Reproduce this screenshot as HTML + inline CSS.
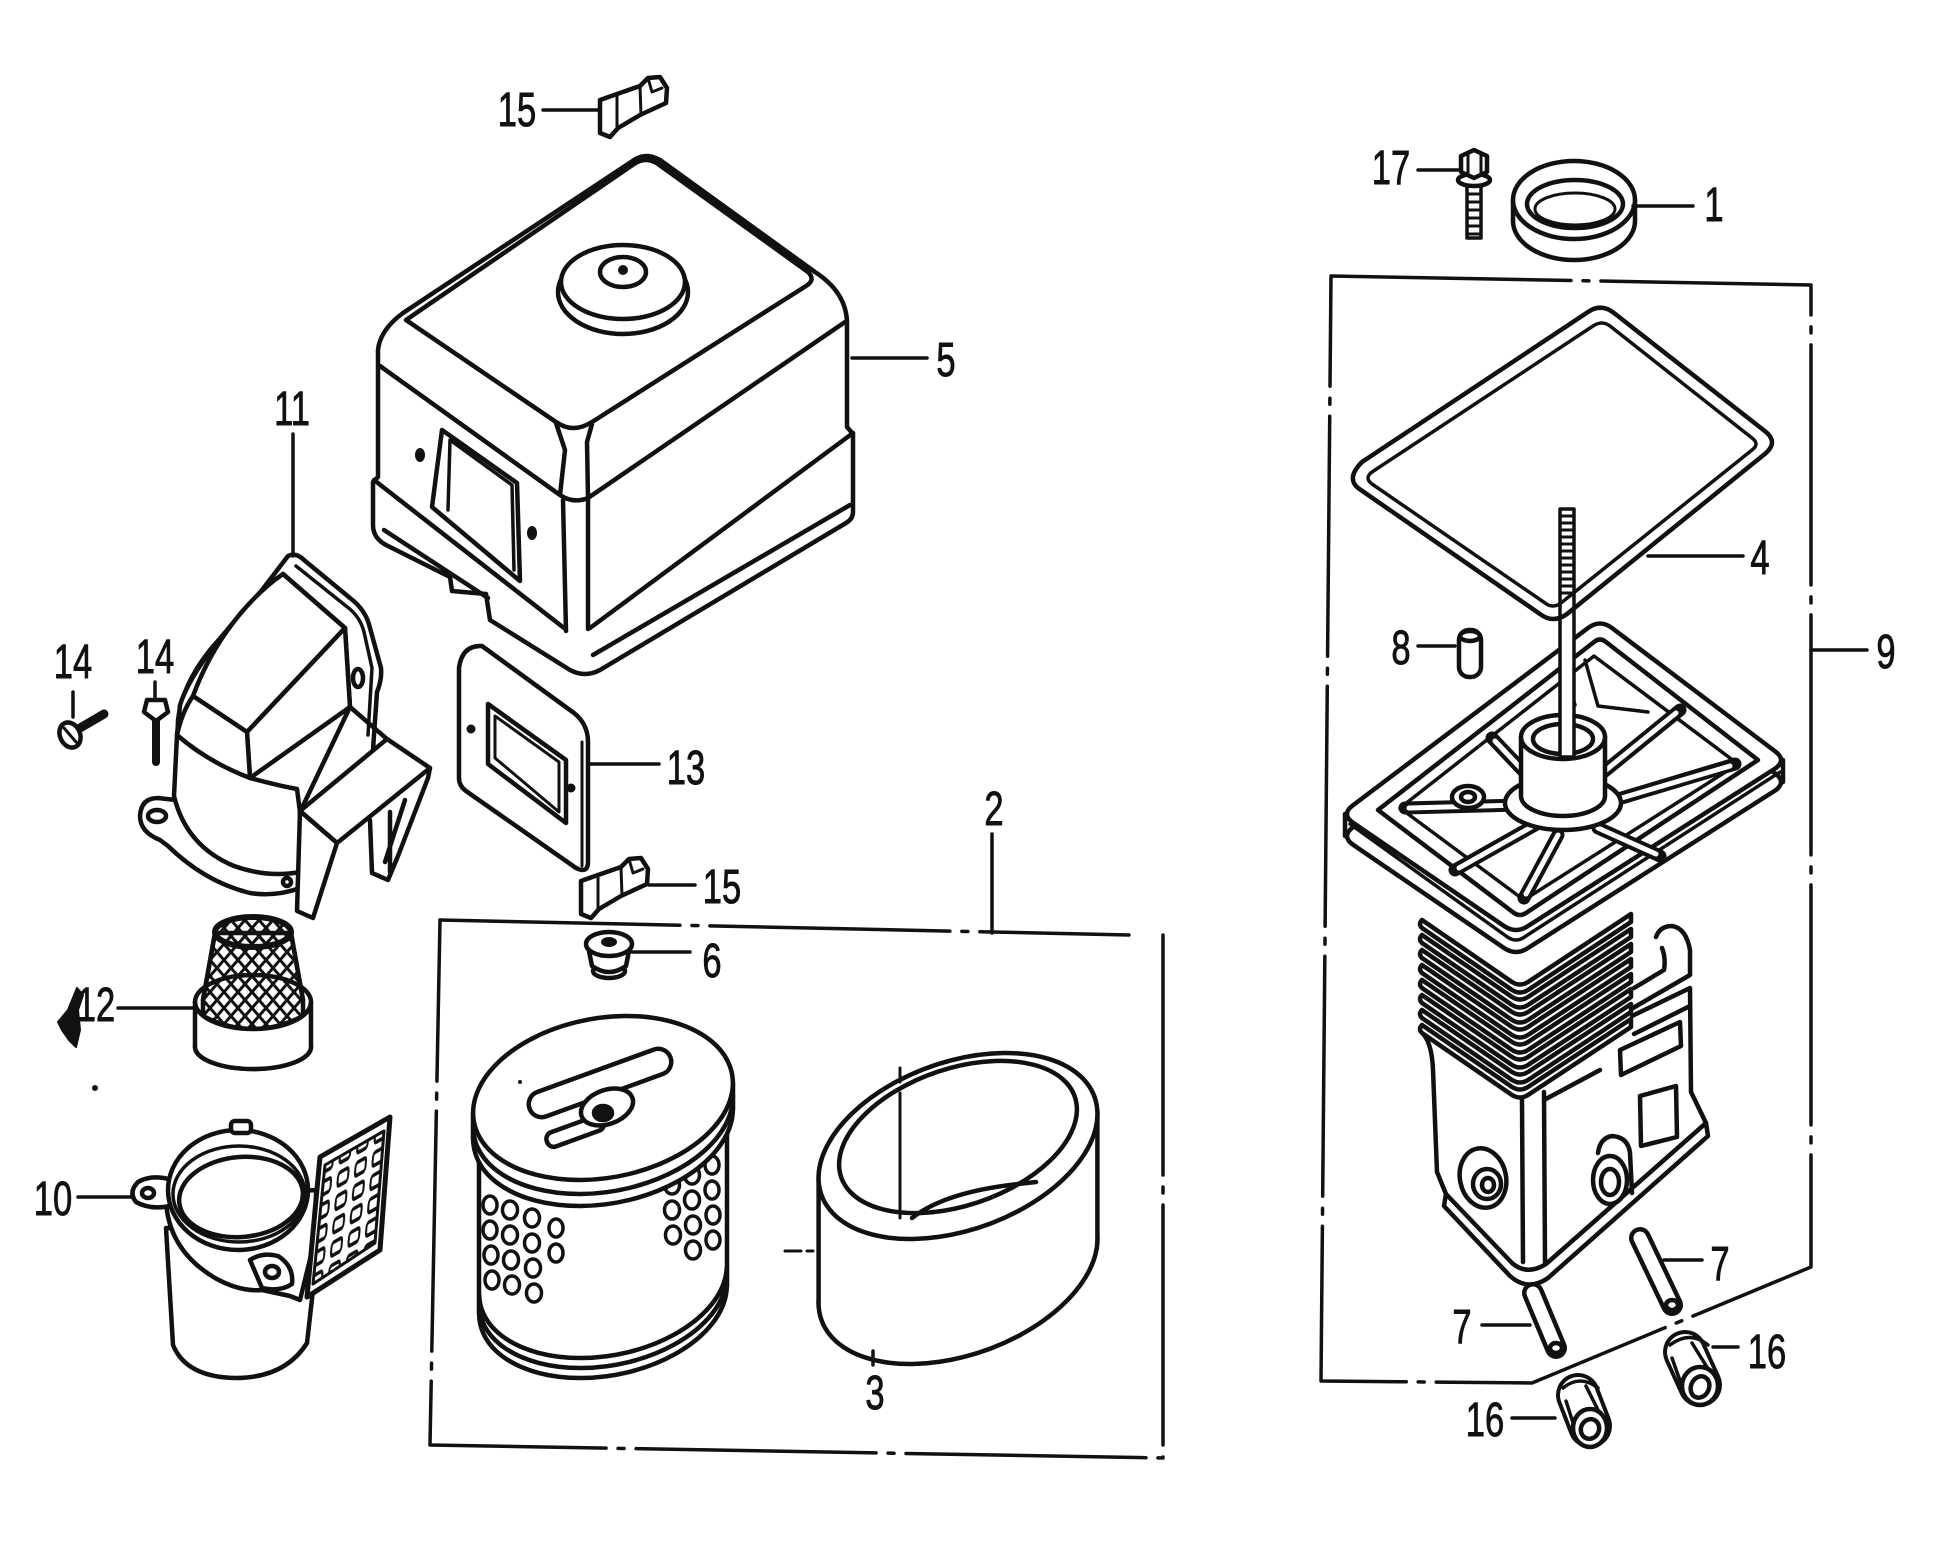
<!DOCTYPE html>
<html><head><meta charset="utf-8">
<style>
html,body{margin:0;padding:0;background:#fff;}
svg{display:block;}
</style></head><body>
<svg width="1946" height="1552" viewBox="0 0 1946 1552" xmlns="http://www.w3.org/2000/svg">
<defs>
 <pattern id="mesh" patternUnits="userSpaceOnUse" width="14" height="16">
   <path d="M0,0 L14,16 M14,0 L0,16" stroke="#111" stroke-width="3" fill="none"/>
 </pattern>
 <pattern id="grid" patternUnits="userSpaceOnUse" width="25" height="16.67" patternTransform="matrix(0.7,-0.4,-0.13,1.4,320,1157)">
   <rect x="5" y="3.5" width="15" height="9.5" rx="3" fill="none" stroke="#111" stroke-width="3"/>
 </pattern>
</defs>
<rect width="1946" height="1552" fill="#fff"/>

<g fill="none" stroke="#111" stroke-width="4.5" stroke-linejoin="round" stroke-linecap="round">

<!-- ============ BOX LINES (chain) ============ -->
<g stroke-width="3.5" stroke-dasharray="240 12 6 12">
  <path d="M440,920 L1129,935"/>
  <path d="M1163,935 L1163,1458 L430,1445 L440,920"/>
  <path d="M1331,276 L1811,285 L1811,1267 L1532,1383 L1321,1381 L1331,276"/>
</g>

<!-- ============ PART 15 TOP ============ -->
<path fill="#fff" d="M600,100 L617,94 L640,86 L648,78 L660,77 L667,88 L666,103 L640,115 L618,128 L610,137 L600,133 Z"/>
<path stroke-width="3" d="M617,94 L617,128 M640,86 L641,115 M648,78 L652,92 L662,88"/>

<!-- ============ PART 5 COVER ============ -->
<path fill="#fff" d="M634,160 Q646,152 660,160 L815,272 Q846,292 847,322 L847,427 L853,434 L853,512 Q853,519 846,523 L600,670 Q585,678 570,670 L490,620 L486,594 L452,591 L450,577 L386,545 Q373,538 373,525 L373,482 L378,477 L378,350 Q380,330 403,313 Z"/>
<path d="M406,320 L634,164 Q646,156 658,164 L808,272 Q816,280 806,286 L592,422 Q573,434 556,422 Z"/>
<!-- bevels -->
<path d="M380,366 L560,495"/>
<path d="M845,322 L588,498"/>
<path d="M556,423 L565,450 L560,495 Q573,504 588,498 L587,442 L592,424"/>
<!-- front band -->
<path d="M563,500 L566,631 M588,500 L588,629"/>
<!-- flange lines -->
<path d="M374,480 L564,628"/>
<path d="M384,530 L488,598"/>
<path d="M853,433 L590,628"/>
<path d="M850,505 L593,655"/>
<!-- window -->
<path fill="#fff" d="M442,430 L517,483 L520,581 L432,507 Z"/>
<path stroke-width="3.5" d="M450,440 L448,510 M450,440 L512,485 L514,570"/>
<ellipse cx="420" cy="455" rx="5" ry="7" fill="#111" stroke="none"/>
<ellipse cx="532" cy="533" rx="5" ry="7" fill="#111" stroke="none"/>
<!-- dome -->
<ellipse cx="623" cy="292" rx="65" ry="42" fill="#fff"/>
<ellipse cx="623" cy="282" rx="62" ry="37" fill="#fff"/>
<ellipse cx="623" cy="272" rx="23" ry="15"/>
<circle cx="623" cy="270" r="5" fill="#111" stroke="none"/>

<!-- ============ PART 13 PLATE ============ -->
<path fill="#fff" d="M459,668 Q462,645 482,646 L574,713 Q588,724 588,742 L588,862 Q588,874 576,868 L466,791 Q459,786 459,778 Z"/>
<path stroke-width="3" d="M582,742 L582,866"/>
<path d="M488,704 L566,760 L566,823 L488,764 Z"/>
<path stroke-width="3" d="M495,716 L559,762 L559,812 L495,758 Z"/>
<circle cx="471" cy="729" r="4.5" fill="#111" stroke="none"/>
<circle cx="571" cy="788" r="4.5" fill="#111" stroke="none"/>

<!-- ============ PART 15 MID ============ -->
<g transform="translate(-19,781)">
<path fill="#fff" d="M600,100 L617,94 L640,86 L648,78 L660,77 L667,88 L666,103 L640,115 L618,128 L610,137 L600,133 Z"/>
<path stroke-width="3" d="M617,94 L617,128 M640,86 L641,115 M648,78 L652,92 L662,88"/>
</g>

<!-- ============ PART 6 GROMMET ============ -->
<ellipse cx="609" cy="971" rx="16" ry="7" fill="#fff"/>
<path fill="#fff" d="M588,946 L592,966 Q609,978 626,966 L630,946 Z"/>
<ellipse cx="609" cy="944" rx="23" ry="12" fill="#fff"/>
<ellipse cx="609" cy="942" rx="8" ry="5" fill="#111" stroke="none"/>

<!-- ============ PART 11 ELBOW ============ -->
<path fill="#fff" d="M288,556 Q296,552 304,560 L350,598 Q366,610 370,628 L381,668 Q382,680 377,692 L374,735 L372,765 L300,812 L300,888 Q275,897 250,893 Q205,882 168,846 L160,840 Q140,832 140,816 Q141,798 158,798 L176,800 L178,720 Q182,685 210,650 L262,590 Z"/>
<path stroke-width="3.5" d="M296,566 L346,606 Q360,616 364,632 L372,668 L368,735"/>
<path fill="#fff" d="M283,574 Q250,600 215,645 Q188,680 180,705 L177,735 L174,796 Q186,846 234,866 Q268,878 300,872 L300,812 L350,707 L345,628 Z"/>
<path fill="#fff" d="M283,574 L345,628 L247,732 L193,696 Q210,650 240,614 Q262,588 283,574 Z"/>
<path fill="#fff" d="M345,628 L350,707 L250,778 L247,732 Z"/>
<path fill="#fff" d="M193,696 L247,732 L250,778 Q208,762 177,735 Q182,712 193,696 Z"/>
<path d="M250,778 Q280,786 297,789 L300,812"/>
<path d="M350,707 L387,739"/>
<path fill="#fff" d="M300,811 L387,739 L430,768 L337,843 Z"/>
<path fill="#fff" d="M300,811 L337,843 L313,918 L297,911 Z"/>
<path d="M430,768 L428,778 L398,856 L388,880 L372,873 L370,820 M390,812 L390,872 M405,800 L385,862"/>
<ellipse cx="358" cy="678" rx="5" ry="9"/>
<ellipse cx="157" cy="816" rx="9" ry="6"/>
<circle cx="287" cy="882" r="4"/>

<!-- ============ PART 14 SCREWS ============ -->
<line x1="80" y1="728" x2="104" y2="714" stroke-width="9"/>
<ellipse cx="70" cy="735" rx="10" ry="13" transform="rotate(-25 70 735)" fill="#fff"/>
<path stroke-width="3" d="M64,728 L76,742"/>
<line x1="156" y1="718" x2="156" y2="762" stroke-width="8"/>
<path fill="#fff" d="M147,700 L165,700 L168,712 L156,721 L144,712 Z"/>

<!-- ============ PART 12 SCREEN ============ -->
<ellipse cx="253" cy="1047" rx="58" ry="22" fill="#fff"/>
<ellipse cx="253" cy="1002" rx="58" ry="27" fill="#fff"/>
<path fill="url(#mesh)" d="M215,933 L203,1000 L203,1016 Q253,1042 303,1016 L303,1000 L291,933 Z"/>
<path d="M215,933 L203,1000 M291,933 L303,1000"/>
<ellipse cx="253" cy="932" rx="38" ry="15" fill="url(#mesh)" stroke-width="6"/>
<path fill="#fff" d="M195,1002 A58,27 0 0 0 311,1002 L311,1047 A58,22 0 0 1 195,1047 Z"/>
<path fill="#111" stroke-width="2" d="M77,988 L83,995 L78,1010 L80,1030 L76,1047 L69,1040 L62,1030 L58,1022 L68,1010 Z"/>
<circle cx="95" cy="1088" r="3" fill="#111" stroke="none"/>

<!-- ============ PART 10 ELBOW ============ -->
<path fill="#fff" d="M166,1228 L173,1345 Q186,1377 235,1378 Q285,1378 307,1343 L313,1290 L313,1230 Z"/>
<path fill="#fff" d="M166,1200 Q168,1250 215,1278 Q240,1292 262,1290 L290,1296 L300,1300 L316,1235 L316,1190 Z"/>
<path fill="#fff" d="M172,1180 Q152,1174 138,1182 Q128,1192 136,1202 Q150,1210 170,1206 Z"/>
<ellipse cx="148" cy="1193" rx="6" ry="5"/>
<ellipse cx="238" cy="1190" rx="70" ry="60" fill="#fff"/>
<ellipse cx="239" cy="1194" rx="66" ry="48" stroke-width="3.5"/>
<ellipse cx="241" cy="1197" rx="62" ry="40" transform="rotate(-5 241 1197)" fill="#fff"/>
<path fill="#fff" d="M250,1260 Q262,1252 278,1256 Q294,1266 292,1284 Q280,1292 262,1288 Z"/>
<ellipse cx="272" cy="1272" rx="7" ry="6"/>
<rect x="231" y="1121" width="20" height="12" rx="4" fill="#fff"/>
<path fill="#fff" stroke-width="5" d="M320,1157 L390,1117 L380,1250 L307,1297 Z"/>
<path fill="url(#grid)" stroke-width="3" d="M325,1165 L384,1131 L375,1243 L313,1284 Z"/>

<!-- ============ PAPER FILTER ============ -->
<ellipse rx="1" ry="1" transform="matrix(122,-1,-21,78,603,1300)" vector-effect="non-scaling-stroke" fill="#fff"/>
<ellipse rx="1" ry="1" transform="matrix(122,-1,-21,78,603,1290)" vector-effect="non-scaling-stroke" fill="#fff"/>
<ellipse rx="1" ry="1" transform="matrix(122,-1,-21,78,603,1280)" vector-effect="non-scaling-stroke" fill="#fff"/>
<path fill="#fff" stroke="none" d="M479,1138 L727,1110 L727,1266 L479,1294 Z"/>
<path d="M479,1138 L479,1314 M727,1110 L727,1286"/>
<g stroke-width="3.5" fill="#fff">
<ellipse cx="490" cy="1205" rx="7" ry="9"/><ellipse cx="490" cy="1230" rx="7" ry="9"/><ellipse cx="491" cy="1255" rx="7" ry="9"/><ellipse cx="492" cy="1280" rx="7" ry="9"/>
<ellipse cx="510" cy="1210" rx="7.5" ry="9"/><ellipse cx="510" cy="1235" rx="7.5" ry="9"/><ellipse cx="511" cy="1260" rx="7.5" ry="9"/><ellipse cx="512" cy="1285" rx="7.5" ry="9"/>
<ellipse cx="532" cy="1218" rx="7.5" ry="9"/><ellipse cx="532" cy="1243" rx="7.5" ry="9"/><ellipse cx="533" cy="1268" rx="7.5" ry="9"/><ellipse cx="534" cy="1293" rx="7.5" ry="9"/>
<ellipse cx="556" cy="1228" rx="7" ry="9"/><ellipse cx="556" cy="1253" rx="7" ry="9"/>
<ellipse cx="672" cy="1185" rx="7.5" ry="9"/><ellipse cx="672" cy="1210" rx="7.5" ry="9"/><ellipse cx="673" cy="1235" rx="7.5" ry="9"/>
<ellipse cx="692" cy="1175" rx="7.5" ry="9"/><ellipse cx="692" cy="1200" rx="7.5" ry="9"/><ellipse cx="693" cy="1225" rx="7.5" ry="9"/><ellipse cx="693" cy="1250" rx="7.5" ry="9"/>
<ellipse cx="712" cy="1165" rx="7" ry="9"/><ellipse cx="712" cy="1190" rx="7" ry="9"/><ellipse cx="713" cy="1215" rx="7" ry="9"/><ellipse cx="713" cy="1240" rx="7" ry="9"/>
</g>
<!-- cover rim -->
<ellipse rx="1" ry="1" transform="matrix(128,-1,-22,82,603,1124)" vector-effect="non-scaling-stroke" fill="#fff"/>
<path fill="#fff" stroke="none" d="M473,1113 L733,1083 L733,1109 L473,1139 Z"/>
<path d="M473,1113 L473,1139 M733,1083 L733,1109"/>
<ellipse rx="1" ry="1" transform="matrix(128,-1,-22,82,603,1112)" vector-effect="non-scaling-stroke" fill="#fff"/>
<ellipse rx="1" ry="1" transform="matrix(128,-1,-22,82,603,1098)" vector-effect="non-scaling-stroke" fill="#fff"/>
<!-- slot & hub -->
<rect x="525" y="1070" width="150" height="26" rx="13" transform="rotate(-20 600 1083)" fill="#fff"/>
<rect x="545" y="1124" width="60" height="15" rx="7" transform="rotate(-20 575 1131)" fill="#fff"/>
<ellipse cx="607" cy="1107" rx="27" ry="17" transform="rotate(-20 607 1107)" fill="#fff"/>
<ellipse cx="603" cy="1113" rx="9" ry="7" fill="#111"/>
<circle cx="520" cy="1082" r="2" fill="#111" stroke="none"/>

<!-- ============ FOAM FILTER (3) ============ -->
<ellipse rx="1" ry="1" transform="matrix(132,-2,-45,93,958,1271)" vector-effect="non-scaling-stroke" fill="#fff"/>
<path fill="#fff" stroke="none" d="M818.6,1178 L1097.4,1114 L1097.4,1239 L818.6,1303 Z"/>
<path d="M818.6,1178 L818.6,1303 M1097.4,1114 L1097.4,1239"/>
<ellipse rx="1" ry="1" transform="matrix(132,-2,-45,93,958,1146)" vector-effect="non-scaling-stroke" fill="#fff"/>
<ellipse rx="1" ry="1" transform="matrix(113,-4,-37,76,958,1137)" vector-effect="non-scaling-stroke" fill="#fff"/>
<path d="M912,1218 Q945,1192 1018,1184 L1036,1182"/>
<path stroke-width="3" d="M900,1093 L900,1218 M900,1068 L900,1082"/>
<path stroke-width="3" stroke-dasharray="16 6" d="M785,1251 L813,1251"/>

<!-- ============ PART 9 BASE ============ -->
<!-- lower body -->
<path d="M1424,1035 Q1432,1045 1433,1070 L1437,1172 L1446,1194"/>
<path fill="#fff" d="M1446,1194 L1512,1263 Q1527,1276 1546,1264 L1706,1123 L1708,1136 L1548,1278 Q1528,1292 1510,1276 L1444,1206 Z"/>
<path d="M1522,1100 L1523,1262 M1544,1092 L1545,1263"/>
<path d="M1544,1100 L1600,1070"/>
<ellipse cx="1483" cy="1178" rx="23" ry="30" transform="rotate(-12 1483 1178)" fill="#fff"/>
<ellipse cx="1487" cy="1184" rx="14" ry="15" fill="#fff"/>
<ellipse cx="1488" cy="1185" rx="6" ry="7"/>
<path d="M1598,1153 Q1600,1138 1612,1136 Q1628,1137 1630,1153 L1632,1193"/>
<ellipse cx="1610" cy="1180" rx="17" ry="24" fill="#fff"/>
<ellipse cx="1610" cy="1182" rx="9" ry="13"/>
<!-- bracket -->
<path d="M1656,937 Q1660,926 1672,926 Q1686,928 1690,950 L1690,975 L1633,1008 M1662,948 Q1666,958 1664,970 L1634,988"/>
<path d="M1632,1016 L1690,988 L1691,1092 L1706,1123 M1634,1034 L1690,1006"/>
<path d="M1620,1050 L1680,1022 L1681,1046 L1621,1075 Z"/>
<path d="M1640,1096 L1676,1086 L1677,1137 L1641,1146 Z"/>
<!-- fins -->
<g fill="#fff">
<path d="M1422,1025 L1512,1087 Q1520,1092 1528,1087 L1631,1019 L1631,1027 L1528,1095 Q1520,1100 1512,1095 L1422,1033 Q1418,1029 1422,1025 Z"/>
<path d="M1422,1010 L1512,1072 Q1520,1077 1528,1072 L1631,1004 L1631,1012 L1528,1080 Q1520,1085 1512,1080 L1422,1018 Q1418,1014 1422,1010 Z"/>
<path d="M1422,995 L1512,1057 Q1520,1062 1528,1057 L1631,989 L1631,997 L1528,1065 Q1520,1070 1512,1065 L1422,1003 Q1418,999 1422,995 Z"/>
<path d="M1422,980 L1512,1042 Q1520,1047 1528,1042 L1631,974 L1631,982 L1528,1050 Q1520,1055 1512,1050 L1422,988 Q1418,984 1422,980 Z"/>
<path d="M1422,965 L1512,1027 Q1520,1032 1528,1027 L1631,959 L1631,967 L1528,1035 Q1520,1040 1512,1035 L1422,973 Q1418,969 1422,965 Z"/>
<path d="M1422,950 L1512,1012 Q1520,1017 1528,1012 L1631,944 L1631,952 L1528,1020 Q1520,1025 1512,1020 L1422,958 Q1418,954 1422,950 Z"/>
<path d="M1422,935 L1512,997 Q1520,1002 1528,997 L1631,929 L1631,937 L1528,1005 Q1520,1010 1512,1005 L1422,943 Q1418,939 1422,935 Z"/>
<path d="M1422,920 L1512,982 Q1520,987 1528,982 L1631,914 L1631,922 L1528,990 Q1520,995 1512,990 L1422,928 Q1418,924 1422,920 Z"/>
</g>
<!-- tray -->
<path fill="#fff" d="M1352,828 L1588,650 Q1600,641 1612,650 L1776,774 Q1786,782 1776,790 L1528,948 Q1516,956 1504,948 L1352,844 Q1342,836 1352,828 Z"/>
<path d="M1345,814 L1345,836 M1783,760 L1783,782"/>
<path stroke-width="3.5" d="M1350,824 L1506,936 Q1516,944 1526,936 L1780,772"/>
<path fill="#fff" d="M1352,806 L1588,628 Q1600,619 1612,628 L1776,752 Q1786,760 1776,768 L1528,926 Q1516,934 1504,926 L1352,822 Q1342,814 1352,806 Z"/>
<path d="M1378,810 L1594,642 Q1600,637 1606,642 L1758,760 L1526,913 Q1520,917 1514,913 Z"/>
<path stroke-width="3.5" d="M1400,808 L1594,656 L1738,764 L1524,900 Z"/>
<!-- ribs -->
<g stroke-width="13">
<path d="M1520,805 L1405,808 M1535,825 L1455,870 M1558,835 L1524,898 M1598,828 L1660,856 M1615,800 L1735,764 M1600,775 L1680,710 M1530,778 L1492,738"/>
</g>
<g stroke="#fff" stroke-width="5">
<path d="M1520,805 L1409,808 M1535,825 L1459,868 M1558,835 L1526,894 M1598,828 L1656,854 M1615,800 L1730,766 M1600,775 L1676,713 M1530,778 L1495,741"/>
</g>
<path stroke-width="3.5" d="M1585,660 L1598,706 L1648,712 M1565,672 L1575,705"/>
<ellipse cx="1468" cy="797" rx="16" ry="11" fill="#fff"/>
<ellipse cx="1468" cy="797" rx="7" ry="5"/>
<!-- hub -->
<ellipse cx="1563" cy="803" rx="58" ry="27" fill="#fff"/>
<path fill="#fff" d="M1521,737 L1521,796 A42,20 0 0 0 1605,796 L1605,737 Z"/>
<ellipse cx="1563" cy="737" rx="42" ry="22" fill="#fff"/>
<ellipse cx="1563" cy="739" rx="30" ry="15"/>
<!-- stud -->
<rect x="1560" y="509" width="14" height="248" fill="#fff" stroke-width="3.5"/>
<path stroke-width="3" d="M1561,516 L1573,516 M1561,523 L1573,523 M1561,530 L1573,530 M1561,537 L1573,537 M1561,544 L1573,544 M1561,551 L1573,551 M1561,558 L1573,558 M1561,565 L1573,565 M1561,572 L1573,572 M1561,579 L1573,579 M1561,586 L1573,586 M1561,593 L1573,593"/>
<!-- gasket 4 -->
<path d="M1362,462 L1588,312 Q1601,303 1614,313 L1766,432 Q1778,442 1766,453 L1567,614 Q1553,624 1540,614 L1358,488 Q1346,478 1362,462 Z"/>
<path stroke-width="3.5" d="M1372,472 L1593,326 Q1602,320 1610,326 L1752,438 Q1760,444 1752,450 L1561,603 Q1553,609 1545,603 L1372,484 Q1364,478 1372,472 Z"/>
<!-- part 8 -->
<rect x="1459" y="630" width="22" height="47" rx="10" fill="#fff"/>
<ellipse cx="1470" cy="636" rx="10" ry="5"/>
<!-- bolt 17 -->
<rect x="1467" y="184" width="14" height="54" fill="#fff" stroke-width="3.5"/>
<path stroke-width="3" d="M1468,194 L1480,194 M1468,202 L1480,202 M1468,210 L1480,210 M1468,218 L1480,218 M1468,226 L1480,226 M1468,234 L1480,234"/>
<ellipse cx="1474" cy="180" rx="16" ry="6" fill="#fff"/>
<path fill="#fff" d="M1461,156 L1474,150 L1487,156 L1487,172 L1474,178 L1461,172 Z"/>
<path stroke-width="3" d="M1468,153 L1468,175 M1481,153 L1481,175"/>
<!-- ring 1 -->
<ellipse cx="1574" cy="221" rx="61" ry="39" fill="#fff"/>
<rect x="1513" y="200" width="122" height="21" fill="#fff" stroke="none"/>
<path d="M1513,200 L1513,221 M1635,200 L1635,221"/>
<ellipse cx="1574" cy="200" rx="61" ry="39" fill="#fff"/>
<ellipse cx="1575" cy="204" rx="48" ry="24" fill="#fff"/>
<ellipse cx="1575" cy="209" rx="40" ry="16" stroke-width="3"/>
<!-- pins 7 -->
<line x1="1640" y1="1238" x2="1672" y2="1305" stroke-width="22"/>
<line x1="1640" y1="1238" x2="1672" y2="1305" stroke="#fff" stroke-width="13"/>
<ellipse cx="1672" cy="1305" rx="6" ry="5"/>
<line x1="1533" y1="1293" x2="1556" y2="1348" stroke-width="22"/>
<line x1="1533" y1="1293" x2="1556" y2="1348" stroke="#fff" stroke-width="13"/>
<ellipse cx="1556" cy="1348" rx="6" ry="5"/>
<!-- nuts 16 -->
<line x1="1685" y1="1352" x2="1700" y2="1385" stroke-width="44"/>
<line x1="1685" y1="1352" x2="1700" y2="1385" stroke="#fff" stroke-width="36"/>
<path stroke-width="3.5" d="M1672,1358 L1684,1392 M1692,1343 L1710,1372 M1670,1345 Q1690,1330 1708,1345"/>
<ellipse cx="1700" cy="1386" rx="18" ry="19" fill="#fff"/>
<ellipse cx="1700" cy="1387" rx="9" ry="11" transform="rotate(25 1700 1387)"/>
<line x1="1578" y1="1395" x2="1590" y2="1426" stroke-width="44"/>
<line x1="1578" y1="1395" x2="1590" y2="1426" stroke="#fff" stroke-width="36"/>
<path stroke-width="3.5" d="M1566,1401 L1576,1432 M1586,1386 L1600,1414 M1563,1388 Q1580,1374 1598,1388"/>
<ellipse cx="1590" cy="1428" rx="17" ry="19" fill="#fff"/>
<ellipse cx="1590" cy="1429" rx="9" ry="10" transform="rotate(25 1590 1429)"/>

<!-- ============ LEADERS ============ -->
<g stroke-width="3.5">
<path d="M543,110 L600,110"/>
<path d="M852,358 L927,358"/>
<path d="M293,434 L293,556"/>
<path d="M73,692 L73,717"/>
<path d="M155,682 L155,700"/>
<path d="M588,764 L659,764"/>
<path d="M992,834 L992,933"/>
<path d="M649,885 L695,885"/>
<path d="M632,952 L690,952"/>
<path d="M118,1008 L193,1008"/>
<path d="M78,1197 L133,1197"/>
<path d="M873,1351 L873,1365"/>
<path d="M1418,170 L1459,170"/>
<path d="M1633,206 L1693,206"/>
<path d="M1648,556 L1743,556"/>
<path d="M1418,646 L1455,646"/>
<path d="M1811,650 L1867,650"/>
<path d="M1664,1260 L1702,1260"/>
<path d="M1482,1325 L1530,1325"/>
<path d="M1713,1347 L1738,1347"/>
<path d="M1512,1418 L1555,1418"/>
</g>
</g>

<!-- ============ LABELS ============ -->
<g font-family="'Liberation Sans', Arial, sans-serif" font-size="48" fill="#111" stroke="#111" stroke-width="0.9" text-anchor="middle">
<text transform="translate(517,126) scale(0.72,1)">15</text>
<text transform="translate(946,376) scale(0.72,1)">5</text>
<text transform="translate(292,425) scale(0.72,1)">11</text>
<text transform="translate(73,678) scale(0.72,1)">14</text>
<text transform="translate(155,673) scale(0.72,1)">14</text>
<text transform="translate(686,784) scale(0.72,1)">13</text>
<text transform="translate(994,825) scale(0.72,1)">2</text>
<text transform="translate(722,903) scale(0.72,1)">15</text>
<text transform="translate(712,977) scale(0.72,1)">6</text>
<text transform="translate(96,1021) scale(0.72,1)">12</text>
<text transform="translate(53,1215) scale(0.72,1)">10</text>
<text transform="translate(875,1409) scale(0.72,1)">3</text>
<text transform="translate(1391,184) scale(0.72,1)">17</text>
<text transform="translate(1714,221) scale(0.72,1)">1</text>
<text transform="translate(1760,574) scale(0.72,1)">4</text>
<text transform="translate(1401,664) scale(0.72,1)">8</text>
<text transform="translate(1886,668) scale(0.72,1)">9</text>
<text transform="translate(1720,1280) scale(0.72,1)">7</text>
<text transform="translate(1462,1343) scale(0.72,1)">7</text>
<text transform="translate(1767,1368) scale(0.72,1)">16</text>
<text transform="translate(1485,1436) scale(0.72,1)">16</text>
</g>
</svg>
</body></html>
